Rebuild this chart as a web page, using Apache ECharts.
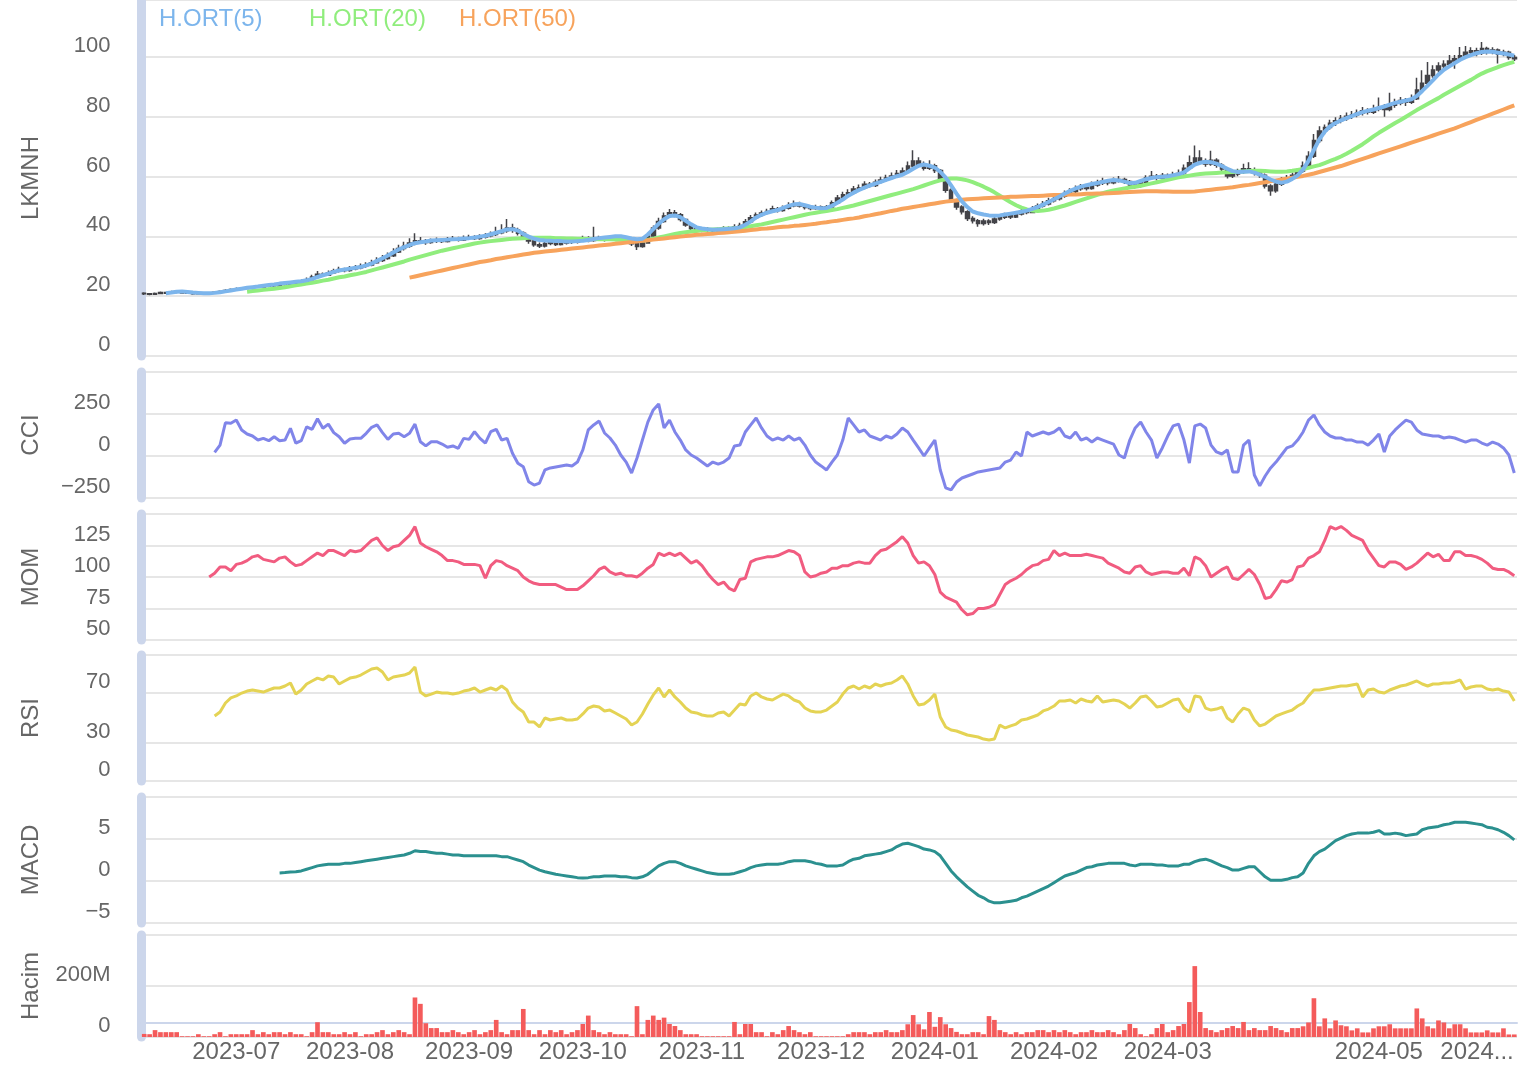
<!DOCTYPE html>
<html>
<head>
<meta charset="utf-8">
<script src="https://cdn.jsdelivr.net/npm/echarts@6/dist/echarts.min.js"></script>
<style>
html, body { margin: 0; padding: 0; background: #fff; }
#main { width: 1528px; height: 1068px; }
</style>
</head>
<body>
<div id="main"></div>
<script>
// trading calendar (BIST), first session and market holidays
const firstDay = '2023-06-05';
const holidays = ['2023-06-28', '2023-06-29', '2023-06-30', '2023-08-30', '2024-01-01',
  '2024-04-10', '2024-04-11', '2024-04-12', '2024-04-23', '2024-05-01'];
// months that get a label on the x axis
const labelMonths = ['2023-07', '2023-08', '2023-09', '2023-10', '2023-11', '2023-12',
  '2024-01', '2024-02', '2024-03', '2024-05', '2024-06'];

// price rows: [open, close, low, high]
const ohlc = [
  // 2023-06
  [21.0,20.8,20.4,21.3],[20.8,20.6,20.3,21.0],[20.6,20.9,20.4,21.2],[20.9,21.2,20.7,21.6],[21.2,21.0,20.8,21.4],
  [21.0,21.5,20.9,21.8],[21.5,21.3,21.0,21.7],[21.3,21.1,20.9,21.5],[21.1,21.0,20.8,21.3],[21.0,20.8,20.5,21.2],
  [20.8,21.0,20.6,21.3],[21.0,20.9,20.7,21.2],[20.9,21.1,20.7,21.4],[21.1,21.3,20.9,21.6],[21.3,21.6,21.1,21.9],
  [21.6,21.9,21.4,22.3],[21.9,22.2,21.7,22.6],
  // 2023-07
  [22.2,22.5,22.0,22.9],[22.5,22.6,22.2,23.0],[22.6,22.8,22.3,23.2],[22.8,23.0,22.5,23.4],[23.0,23.1,22.7,23.5],
  [23.1,23.3,22.8,23.8],[23.3,23.6,23.0,24.1],[23.6,23.5,23.1,24.0],[23.5,23.9,23.2,24.4],[23.9,24.2,23.6,24.8],
  [24.2,24.0,23.6,24.6],[24.0,24.5,23.8,25.1],[24.5,24.9,24.2,25.6],[24.9,25.5,24.6,26.2],[25.5,26.4,25.2,27.2],
  [26.4,27.3,26.0,28.4],[27.3,27.0,26.4,27.9],[27.0,27.8,26.7,28.6],[27.8,28.4,27.4,29.2],[28.4,28.9,27.9,29.8],
  [28.9,28.6,28.0,29.5],
  // 2023-08
  [28.6,29.2,28.2,30.1],[29.2,29.5,28.7,30.4],[29.5,30.0,29.0,30.9],[30.0,30.4,29.5,31.3],[30.4,31.2,30.0,32.2],
  [31.2,31.9,30.8,33.0],[31.9,32.6,31.4,33.8],[32.6,33.5,32.2,34.6],[33.5,34.8,33.1,36.0],[34.8,35.9,34.4,37.2],
  [35.9,36.7,35.3,38.2],[36.7,37.8,36.2,39.4],[37.8,38.5,37.0,41.0],[38.5,38.2,37.4,39.8],[38.2,37.9,37.2,39.1],
  [37.9,38.4,37.5,39.3],[38.4,38.7,37.8,39.6],[38.7,38.3,37.8,39.4],[38.3,38.9,37.9,39.8],[38.9,39.2,38.4,40.1],
  [39.2,38.8,38.3,39.9],[38.8,39.4,38.4,40.3],
  // 2023-09
  [39.4,39.6,38.9,40.5],[39.6,39.3,38.8,40.4],[39.3,39.8,38.9,40.7],[39.8,40.2,39.3,41.1],[40.2,40.6,39.7,41.6],
  [40.6,41.2,40.1,43.2],[41.2,41.9,40.7,44.0],[41.9,42.8,41.2,45.8],[42.8,42.1,41.2,44.2],[42.1,41.0,40.3,42.9],
  [41.0,39.6,38.9,41.6],[39.6,38.4,37.5,40.2],[38.4,37.2,36.5,38.9],[37.2,36.8,36.1,37.9],[36.8,37.6,36.3,38.2],
  [37.6,37.9,37.0,38.5],[37.9,37.3,36.8,38.3],[37.3,37.8,36.9,38.4],[37.8,38.1,37.3,38.7],[38.1,38.0,37.4,38.7],
  [38.0,38.5,37.6,39.1],
  // 2023-10
  [38.5,39.2,38.1,40.2],[39.2,38.6,38.0,40.0],[38.6,39.4,38.2,43.2],[39.4,39.1,38.6,40.2],[39.1,38.8,38.3,39.7],
  [38.8,39.3,38.4,39.9],[39.3,39.7,38.9,40.3],[39.7,39.0,38.5,40.1],[39.0,38.4,37.8,39.4],[38.4,37.5,36.8,38.8],
  [37.5,36.6,35.4,37.9],[36.6,37.8,36.2,38.4],[37.8,40.1,37.5,40.8],[40.1,42.8,39.8,43.6],[42.8,45.0,42.2,46.2],
  [45.0,46.8,44.5,48.0],[46.8,47.9,46.1,49.1],[47.9,47.2,46.4,48.8],[47.2,45.6,45.0,47.8],[45.6,43.8,43.2,46.0],
  [43.8,42.6,42.0,44.2],[42.6,42.2,41.5,43.2],
  // 2023-11
  [42.2,42.0,41.4,42.9],[42.0,42.4,41.5,43.0],[42.4,41.9,41.3,42.8],[41.9,42.3,41.4,42.9],[42.3,42.8,41.9,43.4],
  [42.8,42.5,42.0,43.3],[42.5,43.1,42.1,44.0],[43.1,43.6,42.7,44.5],[43.6,44.9,43.2,45.8],[44.9,46.2,44.4,47.1],
  [46.2,47.1,45.6,48.0],[47.1,47.8,46.5,48.6],[47.8,48.3,47.2,49.2],[48.3,49.2,47.8,50.2],[49.2,48.6,48.0,49.8],
  [48.6,49.4,48.2,50.3],[49.4,50.2,49.0,51.4],[50.2,50.8,49.7,52.0],[50.8,50.1,49.6,51.6],[50.1,49.6,49.0,50.7],
  [49.6,49.3,48.7,50.2],[49.3,49.9,48.9,50.6],
  // 2023-12
  [49.9,49.2,48.6,50.3],[49.2,49.8,48.8,50.5],[49.8,51.2,49.4,52.0],[51.2,52.8,50.8,53.8],[52.8,53.9,52.2,54.9],
  [53.9,54.6,53.3,55.7],[54.6,55.8,54.1,56.8],[55.8,56.2,55.1,57.3],[56.2,57.4,55.7,58.4],[57.4,57.0,56.3,58.2],
  [57.0,58.1,56.5,59.0],[58.1,58.8,57.5,59.9],[58.8,59.5,58.2,60.6],[59.5,60.2,58.9,61.3],[60.2,61.0,59.6,62.2],
  [61.0,61.8,60.3,63.0],[61.8,63.5,61.2,65.0],[63.5,65.2,62.8,68.8],[65.2,64.1,63.2,66.4],[64.1,62.8,62.0,65.0],
  [62.8,63.6,62.2,65.4],
  // 2024-01
  [63.6,62.0,61.2,64.3],[62.0,59.0,58.2,62.5],[59.0,55.4,54.6,59.6],[55.4,52.1,51.2,56.0],[52.1,49.8,48.9,52.6],
  [49.8,48.2,47.3,50.4],[48.2,46.0,45.1,48.7],[46.0,45.2,44.3,46.7],[45.2,44.3,43.2,45.8],[44.3,45.1,43.6,45.9],
  [45.1,44.6,43.8,45.7],[44.6,45.8,44.1,46.5],[45.8,46.4,45.2,47.2],[46.4,47.0,45.8,47.9],[47.0,46.5,45.8,47.6],
  [46.5,47.5,46.1,48.3],[47.5,48.3,47.0,49.2],[48.3,48.0,47.4,49.0],[48.0,49.2,47.7,50.1],[49.2,50.1,48.7,51.0],
  [50.1,50.8,49.6,51.8],[50.8,51.9,50.3,52.9],
  // 2024-02
  [51.9,52.6,51.3,53.8],[52.6,53.4,52.0,54.5],[53.4,54.2,52.9,55.3],[54.2,55.0,53.6,56.1],[55.0,55.9,54.5,57.0],
  [55.9,56.4,55.2,57.5],[56.4,56.0,55.3,57.2],[56.0,57.2,55.6,58.3],[57.2,57.8,56.6,58.9],[57.8,58.4,57.2,59.6],
  [58.4,57.9,57.1,59.2],[57.9,58.6,57.4,59.7],[58.6,59.0,58.0,60.2],[59.0,58.3,57.5,59.6],[58.3,57.2,56.4,58.8],
  [57.2,56.8,56.0,57.9],[56.8,57.9,56.3,58.7],[57.9,59.6,57.4,60.4],[59.6,60.1,58.9,61.8],[60.1,59.4,58.7,60.8],
  [59.4,60.3,58.9,61.2],
  // 2024-03
  [60.3,59.8,59.0,61.0],[59.8,60.5,59.2,61.6],[60.5,61.0,59.9,62.3],[61.0,62.8,60.6,64.0],[62.8,64.6,62.2,67.0],
  [64.6,66.2,63.8,70.4],[66.2,65.0,64.1,68.8],[65.0,64.2,63.3,66.0],[64.2,65.4,63.6,68.6],[65.4,63.8,62.9,66.1],
  [63.8,62.5,61.6,64.4],[62.5,60.2,59.3,63.0],[60.2,60.8,59.5,61.9],[60.8,61.4,60.1,62.6],[61.4,62.6,60.9,64.3],
  [62.6,62.0,61.2,64.8],[62.0,61.2,60.3,63.0],[61.2,60.4,59.6,62.0],[60.4,56.8,56.0,61.0],[56.8,55.2,53.6,57.4],
  [55.2,57.4,54.6,58.2],
  // 2024-04
  [57.4,58.9,56.8,59.8],[58.9,59.6,58.2,60.5],[59.6,60.4,59.0,61.3],[60.4,61.8,59.9,62.8],[61.8,63.5,61.2,65.0],
  [63.5,66.8,63.0,68.4],[66.8,72.0,66.2,74.2],[72.0,75.2,71.2,76.8],[75.2,76.4,74.1,77.4],[76.4,77.8,75.6,79.0],
  [77.8,78.6,76.9,79.8],[78.6,79.4,77.8,80.6],[79.4,80.1,78.6,81.4],[80.1,80.6,79.2,81.9],[80.6,81.2,79.8,82.4],
  [81.2,82.0,80.4,83.2],[82.0,81.5,80.7,82.8],[81.5,82.6,80.9,84.0],
  // 2024-05
  [82.6,83.1,81.8,86.4],[83.1,82.4,80.0,84.2],[82.4,83.8,81.8,88.0],[83.8,84.6,83.0,86.0],[84.6,85.4,83.8,86.6],
  [85.4,84.8,83.6,86.2],[84.8,86.0,84.2,87.4],[86.0,88.9,85.6,93.0],[88.9,91.2,88.2,95.5],[91.2,93.8,90.6,98.3],
  [93.8,95.6,93.0,97.2],[95.6,96.9,94.8,98.2],[96.9,97.5,95.9,98.9],[97.5,98.6,96.8,100.6],[98.6,99.4,96.0,100.6],
  [99.4,100.4,98.6,103.3],[100.4,101.5,99.6,103.6],[101.5,102.0,100.4,103.2],[102.0,101.2,100.2,103.0],[101.2,102.8,100.6,105.0],
  [102.8,101.6,100.8,103.4],[101.6,102.3,100.9,103.2],
  // 2024-06
  [102.3,100.9,97.8,102.8],[100.9,101.5,100.2,102.4],[101.5,99.8,99.0,102.0],[99.8,99.4,98.6,100.6]
];

const pad = (n, arr) => Array(n).fill('-').concat(arr);

const ma5 = pad(4, [
  21.0, 21.2, 21.5, 21.6, 21.4, 21.2, 21.1, 21.0, 21.0, 21.1, 21.3,
  21.6, 21.9, 22.2, 22.5, 22.8, 23.0, 23.2, 23.5, 23.7, 23.9, 24.2, 24.4, 24.6, 24.8, 25.0,
  25.3, 25.8, 26.4, 27.0, 27.5, 28.1, 28.6, 28.9, 29.2,
  29.5, 29.8, 30.3, 30.9, 31.8, 32.7, 33.6, 34.6, 35.6, 36.4, 37.1, 37.7,
  38.0, 38.3, 38.6, 38.7, 38.8, 38.9, 39.0, 39.1, 39.3, 39.4, 39.6, 39.9, 40.2, 40.7, 41.2, 41.7,
  42.3, 42.4, 41.9, 40.8, 39.9, 39.2, 38.8, 38.6, 38.5, 38.4,
  38.4, 38.3, 38.3, 38.4, 38.5, 38.8, 39.1, 39.4, 39.6, 39.8, 40.0, 40.0, 39.7, 39.3, 39.0, 39.2,
  40.6, 42.4, 44.2, 45.7, 46.8, 47.0, 46.4, 45.2, 44.0, 43.0, 42.6,
  42.4, 42.2, 42.3, 42.4, 42.5, 42.7, 43.0,
  43.9, 45.0, 46.3, 47.2, 47.9, 48.4, 48.8, 49.5, 50.2, 50.7, 50.8, 50.4, 49.9, 49.6, 49.4, 49.5,
  50.2, 51.2, 52.3, 53.6, 54.6, 55.5, 56.3, 57.0, 57.6, 58.2, 58.9, 59.5, 60.1, 60.6, 61.5, 62.6, 63.6, 64.0, 63.6, 63.0,
  61.6, 59.6, 57.0, 54.3, 51.7, 49.8, 48.3, 47.7, 47.3, 47.0, 46.9, 47.0, 47.3, 47.6,
  47.9, 48.2, 48.6, 49.2, 49.8, 50.6, 51.5, 52.4, 53.3, 54.3, 55.2, 56.0, 56.6, 57.1, 57.5, 57.8, 58.2, 58.6, 58.8, 58.7, 58.3,
  57.8, 57.9, 58.5, 59.1, 59.5, 59.8, 59.9, 60.1, 60.4, 60.8, 61.4, 62.7, 64.0, 64.6, 64.9, 64.8, 64.3, 63.5,
  62.6, 61.8, 61.5, 61.6, 61.7, 61.3, 60.6, 59.9, 59.0, 58.3, 57.9, 58.3, 59.2, 60.4, 62.4, 65.2, 68.9,
  72.4, 75.0, 76.8, 77.9, 78.8, 79.5, 80.2, 80.9, 81.5, 82.0, 82.4, 82.9, 83.4, 84.0, 84.6,
  85.0, 85.4, 85.8, 86.9, 88.6, 90.4, 92.2, 94.1, 95.7, 96.8, 97.9, 99.0, 99.9, 100.6, 101.2, 101.6, 101.8, 101.7, 101.4, 101.1, 100.8, 100.4
]);

const ma20 = pad(19, [
  21.5, 21.7, 21.9, 22.1, 22.3, 22.5, 22.7, 23.0, 23.3, 23.6, 23.9,
  24.2, 24.5, 24.8, 25.2, 25.5, 25.9, 26.3, 26.6, 27.0, 27.3, 27.7,
  28.1, 28.6, 29.1, 29.6, 30.1, 30.6, 31.1, 31.6, 32.2, 32.7,
  33.2, 33.7, 34.2, 34.7, 35.2, 35.6, 36.0, 36.4, 36.8, 37.2, 37.6, 37.9, 38.2, 38.4, 38.6, 38.8,
  39.0, 39.2, 39.3, 39.4, 39.5, 39.5, 39.5, 39.5, 39.5, 39.4, 39.4, 39.3, 39.3, 39.2, 39.2, 39.1, 39.1, 39.0, 39.0, 39.0, 38.9, 38.9, 38.8, 38.7, 38.6, 38.6,
  38.8, 39.2, 39.6, 40.0, 40.4, 40.8, 41.1, 41.4, 41.6, 41.8, 42.0, 42.2, 42.3, 42.4, 42.5, 42.6, 42.7, 42.9,
  43.1, 43.4, 43.7, 44.0, 44.4, 44.8, 45.2, 45.6, 46.0, 46.4, 46.8, 47.2, 47.6, 47.9, 48.2, 48.5,
  48.8, 49.1, 49.5, 49.9, 50.3, 50.8, 51.3, 51.8, 52.3, 52.8, 53.3, 53.8, 54.3, 54.8, 55.3, 55.8, 56.4, 57.0, 57.6, 58.2,
  58.7, 59.1, 59.3, 59.3, 59.1, 58.7, 58.1, 57.4, 56.6, 55.7, 54.7, 53.6, 52.5, 51.4,
  50.4, 49.6, 49.0, 48.6, 48.5, 48.6, 48.9, 49.3, 49.8, 50.3, 50.9, 51.5, 52.1, 52.7, 53.3, 53.9, 54.4, 54.9, 55.3, 55.7, 56.0,
  56.3, 56.6, 56.9, 57.3, 57.7, 58.1, 58.5, 58.9, 59.3, 59.7, 60.0, 60.3, 60.6, 60.8, 61.0, 61.1, 61.2, 61.3,
  61.4, 61.5, 61.6, 61.7, 61.8, 61.9, 61.9, 61.8, 61.7, 61.6, 61.6, 61.7, 61.9, 62.2, 62.5, 62.9, 63.4,
  63.8, 64.5, 65.2, 65.9, 66.7, 67.6, 68.6, 69.7, 70.8, 72.1, 73.4, 74.6, 75.7, 76.8, 77.9,
  78.9, 80.0, 81.1, 82.2, 83.2, 84.2, 85.2, 86.2, 87.3, 88.3, 89.3, 90.3, 91.3, 92.3, 93.4, 94.4, 95.2, 95.9, 96.6, 97.2, 97.8, 98.3
]);

const ma50 = pad(49, [
  26.2, 26.6, 27.0, 27.4, 27.8, 28.2, 28.6, 29.0, 29.4, 29.8, 30.2, 30.6, 31.0, 31.4, 31.7, 32.0, 32.4, 32.7, 33.0, 33.3, 33.6, 33.9,
  34.2, 34.5, 34.7, 34.9, 35.1, 35.3, 35.5, 35.7, 35.9, 36.1, 36.3, 36.5, 36.7, 36.9,
  37.1, 37.3, 37.5, 37.7, 37.9, 38.1, 38.3, 38.5, 38.7, 38.9, 39.1, 39.3, 39.5, 39.7, 39.9, 40.1, 40.3, 40.5, 40.6,
  40.8, 40.9, 41.1, 41.2, 41.4, 41.5, 41.7, 41.9, 42.1, 42.3, 42.5, 42.6, 42.8, 43.0, 43.2, 43.3, 43.5, 43.6, 43.8,
  44.0, 44.2, 44.5, 44.7, 45.0, 45.2, 45.5, 45.8, 46.0, 46.3, 46.7, 47.0, 47.4, 47.7, 48.1, 48.5, 48.8, 49.2,
  49.5, 49.8, 50.1, 50.4, 50.7, 51.0, 51.3, 51.6, 51.8, 52.0, 52.2, 52.4, 52.5, 52.6, 52.7, 52.8, 52.9, 53.0,
  53.1, 53.2, 53.2, 53.3, 53.4, 53.5, 53.5, 53.6, 53.7, 53.8, 53.8, 53.9, 54.0, 54.0, 54.1, 54.2, 54.2, 54.3, 54.3,
  54.4, 54.5, 54.6, 54.7, 54.8, 54.9, 55.0, 55.1, 55.1, 55.1, 55.0, 55.0, 54.9, 54.9, 54.9, 54.9,
  55.0, 55.2, 55.4, 55.6, 55.8, 56.0, 56.2, 56.4, 56.7, 57.0, 57.2, 57.5, 57.8, 58.1, 58.4, 58.7, 59.0, 59.3, 59.6, 59.9, 60.2, 60.6,
  61.0, 61.5, 62.0, 62.5, 63.0, 63.5, 64.1, 64.7, 65.3, 65.9, 66.5, 67.1, 67.7, 68.3, 68.9, 69.5, 70.1,
  70.7, 71.3, 71.9, 72.5, 73.1, 73.7, 74.3, 74.9, 75.5, 76.1, 76.8, 77.5, 78.2, 78.9, 79.6, 80.3, 81.0, 81.7, 82.4, 83.1, 83.8
]);

const cci = pad(13, [
  22, 65, 198, 195, 214, 155, 131, 119, 95, 105, 91, 115, 91, 95, 165, 76, 91, 174, 159, 222,
  165, 190, 139, 115, 76, 101, 105, 105, 135, 171, 185, 139, 99, 131, 135, 115, 135, 190, 85, 60,
  85, 85, 71, 52, 60, 46, 105, 99, 145, 105, 76, 145, 159, 95, 105, 16, -43, -64, -153, -173,
  -161, -83, -71, -65, -59, -53, -59, -36, 36, 155, 185, 208, 137, 107, 65, 6, -36, -101, -12, 95,
  202, 274, 310, 167, 214, 143, 95, 36, 6, -12, -36, -59, -36, -48, -36, -12, 60, 65, 143, 185,
  226, 167, 119, 95, 107, 95, 119, 95, 107, 65, 6, -36, -59, -83, -36, 6, 95, 226, 185, 143,
  155, 119, 107, 95, 119, 107, 131, 167, 143, 95, 48, 0, 48, 95, -83, -190, -202, -155, -131, -119,
  -107, -95, -89, -83, -77, -71, -36, -24, 24, 0, 143, 119, 131, 143, 131, 143, 167, 119, 107, 143,
  95, 107, 83, 107, 95, 83, 71, 6, -12, 95, 167, 202, 143, 95, -12, 48, 119, 179, 190, 95,
  -42, 179, 190, 167, 65, 24, 12, 36, -95, -95, 65, 95, -113, -178, -119, -71, -36, 6, 48, 60,
  95, 143, 214, 244, 185, 143, 119, 107, 107, 95, 95, 83, 83, 65, 95, 131, 24, 119, 155, 185,
  214, 202, 155, 131, 125, 119, 119, 107, 113, 107, 95, 83, 95, 95, 77, 65, 83, 71, 48, 6, -101
]);

const mom = pad(12, [
  100, 103, 108, 108, 105, 110, 111, 113, 116, 117, 114, 113, 112, 115, 116, 112, 109, 110, 113, 116,
  119, 117, 121, 121, 119, 117, 121, 120, 121, 125, 129, 131, 125, 121, 124, 125, 129, 133, 140, 127,
  124, 122, 120, 117, 113, 113, 112, 110, 110, 110, 109, 99, 109, 113, 112, 109, 107, 105, 100, 97,
  95, 94, 94, 94, 94, 92, 90, 90, 90, 93, 97, 101, 106, 108, 104, 102, 103, 101, 101, 100,
  103, 107, 110, 119, 117, 119, 117, 119, 115, 111, 113, 109, 103, 98, 94, 96, 91, 89, 98, 99,
  112, 114, 115, 116, 116, 117, 119, 121, 120, 117, 104, 100, 101, 103, 104, 107, 107, 109, 109, 111,
  112, 111, 111, 117, 121, 122, 125, 128, 132, 127, 117, 111, 112, 109, 102, 88, 84, 82, 80, 74,
  70, 71, 75, 75, 76, 78, 86, 94, 97, 99, 102, 106, 109, 110, 113, 114, 121, 117, 119, 117,
  117, 117, 118, 117, 116, 115, 111, 109, 107, 104, 103, 108, 109, 104, 102, 103, 104, 104, 103, 103,
  107, 101, 116, 114, 109, 100, 103, 106, 108, 99, 98, 102, 106, 102, 94, 83, 84, 90, 97, 96,
  98, 108, 109, 115, 117, 120, 129, 140, 138, 140, 137, 133, 131, 129, 121, 115, 109, 108, 112, 112,
  110, 106, 108, 111, 115, 119, 116, 118, 113, 113, 120, 120, 117, 117, 116, 114, 111, 107, 106, 106,
  104, 101
]);

const rsi = pad(13, [
  51.6, 54.8, 61.9, 65.9, 67.5, 69.8, 71.4, 72.2, 71.4, 70.6, 72.2, 73.8, 73.8, 75.4, 77.8, 69.0, 72.2, 77.0, 79.4, 81.7,
  80.2, 83.3, 82.5, 77.0, 79.4, 81.7, 82.5, 84.1, 86.5, 88.9, 89.7, 86.5, 80.2, 82.5, 83.3, 84.1, 85.7, 90.5, 70.6, 67.5,
  69.0, 70.6, 69.8, 69.8, 69.0, 69.8, 71.4, 72.2, 73.8, 70.6, 72.2, 73.8, 72.2, 75.4, 72.2, 62.7, 57.9, 54.8, 46.8, 46.8,
  42.9, 50.0, 48.4, 49.2, 50.0, 48.4, 48.4, 49.2, 53.2, 57.9, 59.5, 58.7, 55.6, 56.3, 54.0, 51.6, 49.2, 44.4, 46.8, 53.2,
  61.1, 68.3, 73.8, 66.7, 72.2, 66.7, 62.7, 57.9, 54.8, 54.0, 52.4, 51.6, 51.6, 54.0, 54.8, 51.6, 56.3, 61.1, 60.3, 67.5,
  69.8, 66.7, 65.1, 64.3, 66.7, 69.0, 67.5, 64.3, 62.7, 57.9, 55.6, 54.8, 54.8, 56.3, 59.5, 62.7, 69.0, 73.8, 75.4, 73.0,
  75.4, 73.8, 77.0, 75.4, 77.0, 77.8, 80.2, 83.3, 77.0, 67.5, 60.3, 61.1, 64.3, 69.0, 50.8, 42.9, 40.5, 39.7, 38.1, 36.5,
  35.7, 34.9, 33.3, 32.5, 33.3, 44.4, 42.1, 43.7, 45.2, 48.4, 49.2, 50.8, 52.4, 55.6, 57.1, 59.5, 63.5, 63.5, 64.3, 61.9,
  65.1, 63.5, 62.7, 67.5, 62.7, 63.5, 64.3, 63.5, 61.1, 57.9, 61.9, 66.7, 67.5, 63.5, 58.7, 59.5, 61.9, 64.3, 65.1, 57.9,
  54.8, 67.5, 66.7, 57.9, 56.3, 57.1, 58.7, 50.0, 46.8, 53.2, 57.9, 56.3, 48.4, 43.7, 45.2, 48.4, 51.6, 53.2, 54.8, 56.3,
  59.5, 61.9, 67.5, 72.2, 72.2, 73.0, 73.8, 74.6, 75.4, 75.4, 76.2, 77.0, 66.7, 72.2, 73.0, 70.6, 69.8, 72.2, 73.8, 75.4,
  76.2, 77.8, 79.4, 77.0, 75.4, 77.0, 77.0, 77.8, 77.8, 78.6, 80.2, 73.0, 74.6, 75.4, 75.4, 73.0, 72.2, 73.0, 71.4, 70.6,
  63.5
]);

const macd = pad(25, [
  0.96, 1.0, 1.08, 1.1, 1.2, 1.4, 1.6, 1.8, 1.9, 2.0, 2.0, 2.0, 2.1, 2.1, 2.2, 2.3, 2.4, 2.5, 2.6, 2.7,
  2.8, 2.9, 3.0, 3.1, 3.3, 3.6, 3.5, 3.5, 3.4, 3.3, 3.3, 3.2, 3.1, 3.1, 3.0, 3.0, 3.0, 3.0, 3.0, 3.0,
  3.0, 2.9, 2.9, 2.7, 2.5, 2.3, 1.9, 1.6, 1.3, 1.1, 0.96, 0.8, 0.7, 0.6, 0.5, 0.4, 0.36, 0.4, 0.5, 0.5,
  0.6, 0.6, 0.6, 0.5, 0.5, 0.4, 0.36, 0.5, 0.8, 1.3, 1.8, 2.1, 2.3, 2.3, 2.1, 1.8, 1.6, 1.4, 1.2, 1.0,
  0.9, 0.8, 0.8, 0.8, 0.9, 1.1, 1.3, 1.6, 1.8, 1.9, 2.0, 2.0, 2.0, 2.1, 2.3, 2.4, 2.4, 2.4, 2.3, 2.1,
  2.0, 1.8, 1.8, 1.8, 1.9, 2.3, 2.6, 2.7, 3.0, 3.1, 3.2, 3.3, 3.5, 3.7, 4.1, 4.4, 4.5, 4.3, 4.1, 3.8,
  3.7, 3.5, 3.0, 2.1, 1.2, 0.5, -0.1, -0.7, -1.2, -1.7, -2.0, -2.4, -2.6, -2.6, -2.5, -2.4, -2.3, -2.0, -1.8, -1.5,
  -1.2, -0.9, -0.6, -0.2, 0.2, 0.6, 0.8, 1.0, 1.3, 1.6, 1.7, 1.9, 2.0, 2.1, 2.1, 2.1, 2.1, 1.9, 1.8, 2.0,
  2.0, 2.0, 1.9, 1.9, 1.8, 1.8, 1.8, 2.0, 2.0, 2.3, 2.5, 2.6, 2.4, 2.1, 1.8, 1.6, 1.3, 1.3, 1.5, 1.7,
  1.7, 1.1, 0.5, 0.1, 0.1, 0.1, 0.2, 0.4, 0.5, 0.96, 2.1, 3.0, 3.5, 3.8, 4.3, 4.8, 5.1, 5.4, 5.6, 5.7,
  5.7, 5.7, 5.8, 6.0, 5.6, 5.6, 5.7, 5.6, 5.4, 5.5, 5.6, 6.1, 6.3, 6.4, 6.5, 6.7, 6.8, 7.0, 7.0, 7.0,
  6.9, 6.8, 6.7, 6.4, 6.3, 6.1, 5.8, 5.4, 4.9
]);

// volume, millions of shares
const volume = [
  12, 11, 27, 19, 19, 19, 19, 3, 3, 3, 11, 3, 3, 11, 19, 3, 11,
  11, 11, 11, 27, 11, 19, 11, 19, 19, 11, 19, 11, 11, 3, 19, 58, 19, 19, 11, 11, 19,
  11, 19, 3, 11, 11, 19, 27, 11, 19, 27, 19, 11, 155, 130, 54, 35, 35, 19, 19, 27, 19, 11,
  19, 27, 11, 19, 27, 67, 19, 11, 27, 27, 110, 27, 11, 27, 11, 27, 19, 27, 11, 19, 27,
  51, 84, 27, 19, 11, 19, 11, 11, 11, 3, 121, 11, 67, 84, 67, 76, 51, 43, 27, 11, 11, 11,
  3, 3, 3, 3, 3, 3, 59, 11, 51, 51, 19, 19, 3, 19, 11, 27, 43, 27, 19, 11, 19, 3,
  3, 3, 3, 3, 3, 11, 19, 19, 19, 11, 19, 19, 27, 19, 19, 27, 50, 86, 50, 30, 98,
  40, 78, 50, 35, 20, 11, 11, 19, 19, 11, 82, 67, 27, 19, 11, 19, 11, 19, 19, 27, 27, 19,
  27, 19, 27, 19, 11, 19, 19, 27, 19, 19, 27, 19, 11, 27, 51, 35, 11, 3, 11, 35, 51,
  19, 27, 43, 51, 137, 278, 98, 35, 27, 19, 27, 35, 43, 35, 59, 27, 35, 27, 27, 43, 35,
  27, 19, 35, 35, 42, 57, 152, 42, 73, 34, 65, 46, 42, 26, 34, 18, 18, 34,
  42, 42, 50, 34, 34, 34, 34, 112, 73, 42, 34, 65, 57, 34, 50, 50, 34, 18, 18, 18, 26, 18,
  18, 34, 10, 10
];

function tradingDays(start, count) {
  const out = [];
  const d = new Date(start + 'T00:00:00Z');
  while (out.length < count) {
    const s = d.toISOString().slice(0, 10);
    const wd = d.getUTCDay();
    if (wd !== 0 && wd !== 6 && !holidays.includes(s)) out.push(s);
    d.setUTCDate(d.getUTCDate() + 1);
  }
  return out;
}
const dates = tradingDays(firstDay, ohlc.length);

// first session of each labelled month
const monthStart = new Set();
dates.forEach((d, i) => {
  if (i > 0 && d.slice(0, 7) !== dates[i - 1].slice(0, 7) && labelMonths.includes(d.slice(0, 7))) {
    monthStart.add(i);
  }
});
const lastLabel = Math.max(...monthStart);
// the last month label runs into the right edge, so it is shortened
const axisDates = dates.map((d, i) => (i === lastLabel
  ? { value: d, textStyle: { width: 75, overflow: 'truncate', ellipsis: '...', padding: [0, 42, 0, 0] } }
  : d));

const chartDom = document.getElementById('main');
const myChart = echarts.init(chartDom, null, { renderer: 'canvas' });

const LEFT = 141.5, RIGHT = 11;
const panels = [
  { top: 0, height: 356 },
  { top: 372, height: 126 },
  { top: 514, height: 126 },
  { top: 655, height: 126 },
  { top: 797, height: 126 },
  { top: 935, height: 102 }
];

const minus = (v) => String(v).replace('-', '\u2212');

function xAxisFor(i) {
  const last = i === panels.length - 1;
  return {
    type: 'category',
    gridIndex: i,
    data: axisDates,
    boundaryGap: true,
    show: last,
    offset: last ? -14 : 0,
    axisLine: { onZero: false, lineStyle: { color: '#ccd6eb', width: 2 } },
    axisTick: { interval: (idx) => monthStart.has(idx), length: 20, lineStyle: { color: '#ccd6eb', width: 2 } },
    axisLabel: {
      interval: (idx) => monthStart.has(idx),
      formatter: (v) => v.slice(0, 7),
      color: '#666666',
      fontSize: 24,
      margin: 17
    },
    splitLine: { show: false }
  };
}

function yAxisFor(i, name, extra) {
  return Object.assign({
    type: 'value',
    gridIndex: i,
    name: name,
    nameLocation: 'middle',
    nameGap: 98,
    nameTextStyle: { color: '#666666', fontSize: 24 },
    axisLine: { show: true, lineStyle: { color: '#ccd6eb', width: 9 } },
    axisTick: { show: false },
    axisLabel: { color: '#666666', fontSize: 22, margin: 31, verticalAlign: 'bottom', showMaxLabel: false, formatter: minus },
    splitLine: { show: true, lineStyle: { color: '#e6e6e6', width: 2 } }
  }, extra);
}

const legendItem = (name, color, left) => ({
  top: 2,
  left: left,
  itemWidth: 0,
  itemHeight: 0,
  selectedMode: false,
  textStyle: { fontSize: 24, color: color },
  data: [name]
});

const option = {
  animation: false,
  backgroundColor: '#ffffff',
  textStyle: { fontFamily: 'Liberation Sans, Arial, sans-serif' },
  legend: [
    legendItem('H.ORT(5)', '#7cb5ec', 148),
    legendItem('H.ORT(20)', '#90ed7d', 298),
    legendItem('H.ORT(50)', '#f7a35c', 448)
  ],
  grid: panels.map((p) => ({ left: LEFT, right: RIGHT, top: p.top, height: p.height, outerBoundsMode: 'none' })),
  xAxis: panels.map((p, i) => xAxisFor(i)),
  yAxis: [
    yAxisFor(0, 'LKMNH', { min: 0, max: 119, interval: 20 }),
    yAxisFor(1, 'CCI', { min: -250, max: 500, interval: 250 }),
    yAxisFor(2, 'MOM', { min: 50, max: 150, interval: 25 }),
    yAxisFor(3, 'RSI', {
      min: 0, max: 100,
      axisLabel: { color: '#666666', fontSize: 22, margin: 31, verticalAlign: 'bottom', customValues: [0, 30, 70] },
      axisTick: { show: false, customValues: [0, 30, 70, 100] },
      splitLine: { show: true, customValues: [0, 30, 70, 100], lineStyle: { color: '#e6e6e6', width: 2 } }
    }),
    yAxisFor(4, 'MACD', { min: -5, max: 10, interval: 5 }),
    yAxisFor(5, 'Hacim', {
      min: 0, max: 400, interval: 200,
      axisLabel: {
        color: '#666666', fontSize: 22, margin: 31, verticalAlign: 'bottom', showMaxLabel: false,
        formatter: (v) => (v === 0 ? '0' : v + 'M')
      }
    })
  ],
  series: [
    {
      name: 'LKMNH', type: 'candlestick', xAxisIndex: 0, yAxisIndex: 0, data: ohlc,
      barWidth: 4,
      itemStyle: { color: '#434348', color0: '#434348', borderColor: '#434348', borderColor0: '#434348', borderWidth: 1.5 }
    },
    { name: 'H.ORT(5)', type: 'line', xAxisIndex: 0, yAxisIndex: 0, data: ma5, showSymbol: false, symbol: 'none',
      lineStyle: { color: '#7cb5ec', width: 4 }, itemStyle: { color: '#7cb5ec' }, z: 4 },
    { name: 'H.ORT(20)', type: 'line', xAxisIndex: 0, yAxisIndex: 0, data: ma20, showSymbol: false, symbol: 'none',
      lineStyle: { color: '#90ed7d', width: 4 }, itemStyle: { color: '#90ed7d' }, z: 3 },
    { name: 'H.ORT(50)', type: 'line', xAxisIndex: 0, yAxisIndex: 0, data: ma50, showSymbol: false, symbol: 'none',
      lineStyle: { color: '#f7a35c', width: 4 }, itemStyle: { color: '#f7a35c' }, z: 3 },
    { name: 'CCI', type: 'line', xAxisIndex: 1, yAxisIndex: 1, data: cci, symbol: 'none',
      lineStyle: { color: '#8085e9', width: 3 } },
    { name: 'MOM', type: 'line', xAxisIndex: 2, yAxisIndex: 2, data: mom, symbol: 'none',
      lineStyle: { color: '#f15c80', width: 3 } },
    { name: 'RSI', type: 'line', xAxisIndex: 3, yAxisIndex: 3, data: rsi, symbol: 'none',
      lineStyle: { color: '#e4d354', width: 3 } },
    { name: 'MACD', type: 'line', xAxisIndex: 4, yAxisIndex: 4, data: macd, symbol: 'none',
      lineStyle: { color: '#2b908f', width: 3 } },
    { name: 'Hacim', type: 'bar', xAxisIndex: 5, yAxisIndex: 5, data: volume,
      barCategoryGap: '14%', itemStyle: { color: '#f45b5b' } }
  ]
};

option && myChart.setOption(option);
</script>
</body>
</html>
